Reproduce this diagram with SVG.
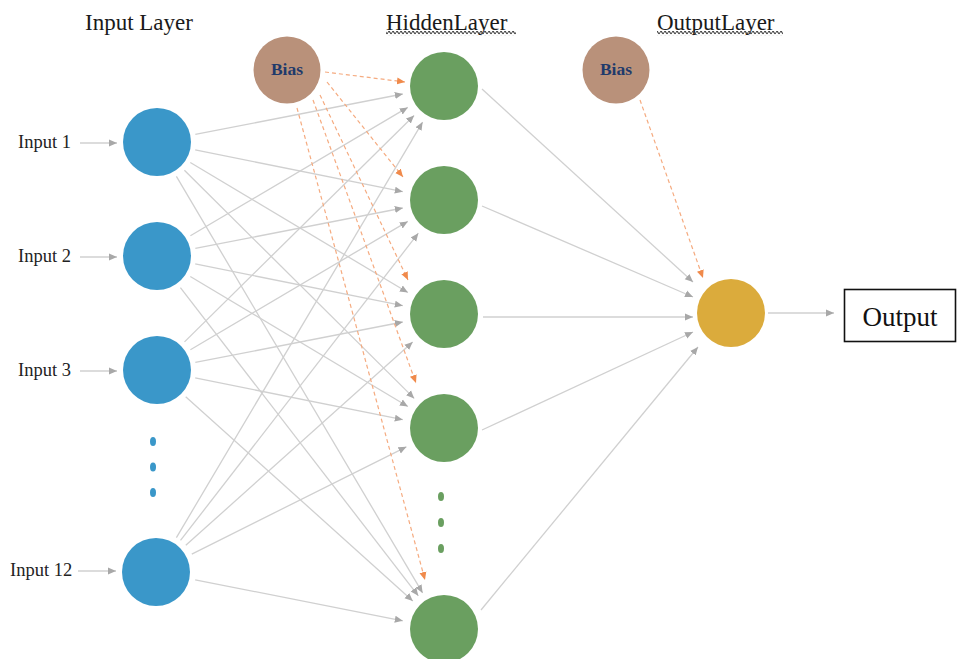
<svg xmlns="http://www.w3.org/2000/svg" width="957" height="659" viewBox="0 0 957 659">
<style>
.title{font-family:"Liberation Serif","Times New Roman",serif;font-size:23px;fill:#1a1a1a}
.lbl{font-family:"Liberation Serif","Times New Roman",serif;font-size:18.5px;fill:#222}
.bias{font-family:"Liberation Serif","Times New Roman",serif;font-size:17.5px;font-weight:bold;fill:#1f3a6b;text-anchor:middle}
.out{font-family:"Liberation Serif","Times New Roman",serif;font-size:27px;fill:#111;text-anchor:middle}
.in{fill:#3a97c9}
.hid{fill:#6a9f60}
.bn{fill:#b9917a}
.on{fill:#dbab3c}
.e{stroke:#d0d0d0;stroke-width:1.3;fill:none;marker-end:url(#ag)}
.b{stroke:#f5ab80;stroke-width:1.2;stroke-dasharray:4 3;fill:none;marker-end:url(#ao)}
</style>
<defs>
<marker id="ag" markerUnits="userSpaceOnUse" markerWidth="9" markerHeight="9" refX="8" refY="4.5" orient="auto">
<path d="M0,1 L8,4.5 L0,8 z" fill="#a8a8a8"/>
</marker>
<marker id="ao" markerUnits="userSpaceOnUse" markerWidth="9" markerHeight="9" refX="8" refY="4.5" orient="auto">
<path d="M0,1 L8,4.5 L0,8 z" fill="#f08a4b"/>
</marker>
<pattern id="wave" patternUnits="userSpaceOnUse" width="4" height="5">
<path d="M0,2.5 Q1,0.3 2,2.5 T4,2.5" stroke="#444" stroke-width="1.1" fill="none"/>
</pattern>
</defs>
<rect width="957" height="659" fill="#ffffff"/>

<g id="titles">
<text class="title" x="85" y="30">Input Layer</text>
<text class="title" x="386" y="30">HiddenLayer</text>
<rect x="386" y="31" width="130" height="5" fill="url(#wave)"/>
<text class="title" x="657" y="30">OutputLayer</text>
<rect x="657" y="31" width="126" height="5" fill="url(#wave)"/>
</g>

<g id="connectors">
<line class="e" x1="80" y1="143" x2="117" y2="143"/>
<line class="e" x1="80" y1="257" x2="117" y2="257"/>
<line class="e" x1="80" y1="371" x2="117" y2="371"/>
<line class="e" x1="78" y1="571" x2="116" y2="571"/>
<line class="e" x1="195.3" y1="134.4" x2="402.8" y2="94"/>
<line class="e" x1="195.2" y1="149.9" x2="402.8" y2="191.7"/>
<line class="e" x1="190.3" y1="162.5" x2="407.9" y2="292.5"/>
<line class="e" x1="184.4" y1="170.2" x2="414.2" y2="398.4"/>
<line class="e" x1="176.4" y1="176.4" x2="422.6" y2="592.9"/>
<line class="e" x1="190.4" y1="235.7" x2="407.8" y2="107.4"/>
<line class="e" x1="195.3" y1="248.4" x2="402.8" y2="208"/>
<line class="e" x1="195.2" y1="263.9" x2="402.8" y2="305.7"/>
<line class="e" x1="190.3" y1="276.5" x2="407.9" y2="406.5"/>
<line class="e" x1="180.4" y1="287.7" x2="418.3" y2="595.8"/>
<line class="e" x1="184.5" y1="341.9" x2="414.1" y2="115.5"/>
<line class="e" x1="190.4" y1="349.7" x2="407.8" y2="221.4"/>
<line class="e" x1="195.3" y1="362.4" x2="402.8" y2="322"/>
<line class="e" x1="195.2" y1="377.9" x2="402.8" y2="419.7"/>
<line class="e" x1="185.7" y1="396.7" x2="412.8" y2="600.9"/>
<line class="e" x1="176.4" y1="537.6" x2="422.6" y2="122.1"/>
<line class="e" x1="180.5" y1="540.4" x2="418.3" y2="233.2"/>
<line class="e" x1="185.8" y1="545.3" x2="412.7" y2="342"/>
<line class="e" x1="191.8" y1="554.1" x2="406.4" y2="446.8"/>
<line class="e" x1="195.2" y1="579.8" x2="402.8" y2="620.8"/>
<line class="e" x1="482" y1="89" x2="693" y2="282"/>
<line class="e" x1="482" y1="206" x2="693" y2="297"/>
<line class="e" x1="483" y1="317" x2="693" y2="317"/>
<line class="e" x1="482" y1="430" x2="693" y2="332"/>
<line class="e" x1="481" y1="610" x2="698" y2="347"/>
<line class="e" x1="768" y1="313" x2="834" y2="313"/>
<line class="b" x1="325" y1="72" x2="405" y2="82"/>
<line class="b" x1="327" y1="82" x2="403" y2="177"/>
<line class="b" x1="320" y1="95" x2="408" y2="280"/>
<line class="b" x1="313" y1="100" x2="416" y2="383"/>
<line class="b" x1="297" y1="108" x2="425" y2="580"/>
<line class="b" x1="640" y1="100" x2="703" y2="278"/>
</g>

<g id="input-labels">
<text class="lbl" x="18" y="148">Input 1</text>
<text class="lbl" x="18" y="262">Input 2</text>
<text class="lbl" x="18" y="376">Input 3</text>
<text class="lbl" x="10" y="576">Input 12</text>
</g>

<g id="input1"><circle class="in" cx="157" cy="142" r="34"/></g>
<g id="input2"><circle class="in" cx="157" cy="256" r="34"/></g>
<g id="input3"><circle class="in" cx="157" cy="370" r="34"/></g>
<g id="input-dots">
<ellipse class="in" cx="153" cy="441.5" rx="3" ry="4.5"/>
<ellipse class="in" cx="153" cy="467" rx="3" ry="4.5"/>
<ellipse class="in" cx="153" cy="492.5" rx="3" ry="4.5"/>
</g>
<g id="input12"><circle class="in" cx="156" cy="572" r="34"/></g>

<g id="bias1"><circle class="bn" cx="287" cy="70" r="33.5"/><text class="bias" x="287" y="75">Bias</text></g>
<g id="bias2"><circle class="bn" cx="616" cy="70" r="33.5"/><text class="bias" x="616" y="75">Bias</text></g>

<g id="hidden1"><circle class="hid" cx="444" cy="86" r="34"/></g>
<g id="hidden2"><circle class="hid" cx="444" cy="200" r="34"/></g>
<g id="hidden3"><circle class="hid" cx="444" cy="314" r="34"/></g>
<g id="hidden4"><circle class="hid" cx="444" cy="428" r="34"/></g>
<g id="hidden-dots">
<ellipse class="hid" cx="441" cy="496.5" rx="3" ry="4.5"/>
<ellipse class="hid" cx="441" cy="522.5" rx="3" ry="4.5"/>
<ellipse class="hid" cx="441" cy="548.5" rx="3" ry="4.5"/>
</g>
<g id="hidden5"><circle class="hid" cx="444" cy="629" r="34"/></g>

<g id="output-node"><circle class="on" cx="731" cy="313" r="34"/></g>
<g id="output-box">
<rect x="844.5" y="289.5" width="111" height="52" fill="#fff" stroke="#111" stroke-width="1.6"/>
<text class="out" x="900" y="326">Output</text>
</g>
</svg>
